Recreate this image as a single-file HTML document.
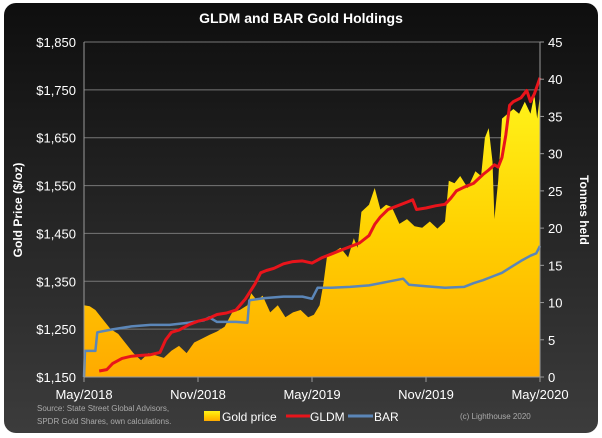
<!DOCTYPE html>
<html><head><meta charset="utf-8"><style>
body{margin:0;background:#fff;}
svg{display:block;font-family:"Liberation Sans",sans-serif;}
</style></head><body>
<svg width="602" height="438" viewBox="0 0 602 438">
<defs>
<linearGradient id="bg" x1="0" y1="0" x2="0" y2="1"><stop offset="0" stop-color="#0e0e0e"/><stop offset="1" stop-color="#3c3c3c"/></linearGradient>
<linearGradient id="gold" x1="0" y1="0" x2="0" y2="1"><stop offset="0" stop-color="#fff31a"/><stop offset="0.5" stop-color="#ffd000"/><stop offset="1" stop-color="#ffaa00"/></linearGradient>
</defs>
<rect x="4" y="3" width="594" height="430" rx="12" fill="url(#bg)"/>
<text x="301" y="23" fill="#fff" font-size="14" font-weight="bold" text-anchor="middle">GLDM and BAR Gold Holdings</text>
<g id="grid"></g>
<g id="area"></g>
<g id="lines"></g>
<g id="axes"></g>
<text transform="translate(22,210) rotate(-90)" fill="#fff" font-size="12" font-weight="bold" text-anchor="middle">Gold Price ($/oz)</text>
<text transform="translate(580,210) rotate(90)" fill="#fff" font-size="12" font-weight="bold" text-anchor="middle">Tonnes held</text>
<text x="37" y="411" fill="#aaa" font-size="8">Source: State Street Global Advisors,</text>
<text x="37" y="424" fill="#aaa" font-size="8">SPDR Gold Shares, own calculations.</text>
<text x="460" y="419" fill="#aaa" font-size="8">(c) Lighthouse 2020</text>
<g>
<rect x="204" y="411" width="16" height="10" fill="url(#gold)"/>
<text x="222" y="421" fill="#fff" font-size="12">Gold price</text>
<line x1="286" y1="416" x2="310" y2="416" stroke="#e8141b" stroke-width="3"/>
<text x="310" y="421" fill="#fff" font-size="12">GLDM</text>
<line x1="348" y1="416" x2="373" y2="416" stroke="#5b86b8" stroke-width="3"/>
<text x="374" y="421" fill="#fff" font-size="12">BAR</text>
</g>
</svg>
<script>
const goldMonths=[0,0.3,0.6,1,1.4,1.8,2.2,2.6,3,3.4,3.8,4.2,4.6,5,5.4,5.8,6.2,6.6,7,7.4,7.8,8.2,8.6,8.8,9.1,9.4,9.8,10.2,10.6,11,11.4,11.8,12.1,12.4,12.6,12.8,13.1,13.5,13.9,14.2,14.4,14.6,15,15.3,15.6,15.9,16.2,16.6,17,17.4,17.8,18.2,18.6,19,19.2,19.5,19.8,20.2,20.6,20.9,21.1,21.3,21.5,21.6,21.8,22,22.3,22.6,22.9,23.2,23.5,23.7,23.85,24];
const goldPrice=[1300,1298,1290,1270,1250,1240,1220,1200,1185,1200,1195,1190,1205,1215,1200,1222,1230,1238,1245,1255,1285,1290,1300,1325,1310,1320,1285,1300,1275,1285,1290,1275,1280,1300,1345,1405,1410,1420,1400,1440,1420,1495,1510,1545,1500,1510,1505,1470,1480,1465,1462,1475,1460,1475,1560,1555,1570,1545,1580,1570,1650,1670,1600,1480,1560,1690,1700,1710,1700,1725,1700,1740,1690,1740];
const gldmMonths=[0.8,1.2,1.5,2,2.5,3,3.5,4,4.3,4.6,5,5.5,6,6.5,7,7.5,8,8.5,9,9.3,9.6,10,10.5,11,11.5,12,12.5,13,13.5,14,14.5,15,15.3,15.6,16,16.5,17,17.3,17.5,18,18.5,19,19.3,19.6,20,20.5,21,21.3,21.6,21.8,22,22.2,22.4,22.6,23,23.3,23.5,23.7,24];
const gldmTonnes=[0.8,1,1.8,2.5,2.8,2.9,3,3.3,5,6,6.3,7,7.5,7.8,8.4,8.6,9,10.5,12.5,14,14.3,14.6,15.2,15.5,15.6,15.3,16,16.5,17,17.5,18,19,20.5,21.5,22.5,23,23.5,23.8,22.5,22.7,23,23.2,24,25,25.5,26,27.2,27.8,28.5,28.2,29.5,32.5,36.5,37,37.5,38.5,37,38,40.2];
const barMonths=[0,0.05,0.6,0.7,1.5,2.5,3.5,4.5,5.5,6.3,6.6,7,8,8.6,8.7,9.5,10.5,11.5,12,12.3,13,14,15,16,16.8,17.1,18,19,20,20.5,21,21.5,22,22.5,23,23.5,23.8,24];
const barTonnes=[0,3.5,3.5,6,6.4,6.8,7,7,7.3,7.6,8,7.4,7.4,7.3,10.3,10.6,10.8,10.8,10.5,12,12,12.1,12.3,12.8,13.2,12.4,12.2,12,12.1,12.6,13,13.5,14,14.8,15.6,16.3,16.6,17.6];
const priceTicks=[1150,1250,1350,1450,1550,1650,1750,1850];
const priceTickLabels=["$1,150","$1,250","$1,350","$1,450","$1,550","$1,650","$1,750","$1,850"];
const tonneTicks=[0,5,10,15,20,25,30,35,40,45];
const xTickMonths=[0,6,12,18,24];
const xTickLabels=["May/2018","Nov/2018","May/2019","Nov/2019","May/2020"];

const L=84,R=540,T=42,B=377;
const xs=m=>L+(R-L)*m/24;
const yp=v=>B-(B-T)*(v-1150)/700;
const yt=v=>B-(B-T)*v/45;
const NS="http://www.w3.org/2000/svg";
function mk(tag,parent){const e=document.createElementNS(NS,tag);document.getElementById(parent).appendChild(e);return e;}

priceTicks.forEach((v,i)=>{
  const g=mk('line','grid');
  
  
  g.setAttribute('x1',L);g.setAttribute('x2',R);g.setAttribute('y1',yp(v));g.setAttribute('y2',yp(v));
  g.setAttribute('stroke','#777');g.setAttribute('stroke-width','1');
  const t=mk('text','axes');
  
  
  t.setAttribute('x',L-8);t.setAttribute('y',yp(v)+5);t.setAttribute('fill','#fff');t.setAttribute('font-size','13');t.setAttribute('text-anchor','end');
  t.textContent=priceTickLabels[i];
});
tonneTicks.forEach(v=>{
  const t=mk('text','axes');
  
  
  t.setAttribute('x',R+8);t.setAttribute('y',yt(v)+5);t.setAttribute('fill','#fff');t.setAttribute('font-size','13');
  t.textContent=v;
  const k=mk('line','axes');
  
  
  k.setAttribute('x1',R);k.setAttribute('x2',R+4);k.setAttribute('y1',yt(v));k.setAttribute('y2',yt(v));k.setAttribute('stroke','#999');
});
xTickMonths.forEach((m,i)=>{
  const t=mk('text','axes');
  
  
  t.setAttribute('x',xs(m));t.setAttribute('y',B+22);t.setAttribute('fill','#fff');t.setAttribute('font-size','13');t.setAttribute('text-anchor','middle');
  t.textContent=xTickLabels[i];
  const k=mk('line','axes');
  
  
  k.setAttribute('x1',xs(m));k.setAttribute('x2',xs(m));k.setAttribute('y1',B);k.setAttribute('y2',B+5);k.setAttribute('stroke','#999');
});
[['y-axis-left',L,T,L,B],['y-axis-right',R,T,R,B],['x-axis',L,B,R,B]].forEach(a=>{
  const k=mk('line','axes');
  
  
  k.setAttribute('x1',a[1]);k.setAttribute('y1',a[2]);k.setAttribute('x2',a[3]);k.setAttribute('y2',a[4]);k.setAttribute('stroke','#999');
});

let d='M'+xs(goldMonths[0])+','+B;
goldMonths.forEach((m,i)=>{d+=' L'+xs(m).toFixed(1)+','+yp(goldPrice[i]).toFixed(1);});
d+=' L'+xs(goldMonths[goldMonths.length-1])+','+B+' Z';
const area=mk('path','area');


area.setAttribute('d',d);area.setAttribute('fill','url(#gold)');

function line(ms,vs,color,name,w){
  let p='';
  ms.forEach((m,i)=>{const x=xs(m).toFixed(1),y=yt(vs[i]).toFixed(1);p+=(i?' L':'M')+x+','+y;});
  const e=mk('path','lines');
  
  
  e.setAttribute('d',p);e.setAttribute('fill','none');e.setAttribute('stroke',color);e.setAttribute('stroke-width',w);e.setAttribute('stroke-linejoin','round');
}
line(barMonths,barTonnes,'#5b86b8','bar-line','2.5');
line(gldmMonths,gldmTonnes,'#e8141b','gldm-line','3');
</script>
</body></html>
